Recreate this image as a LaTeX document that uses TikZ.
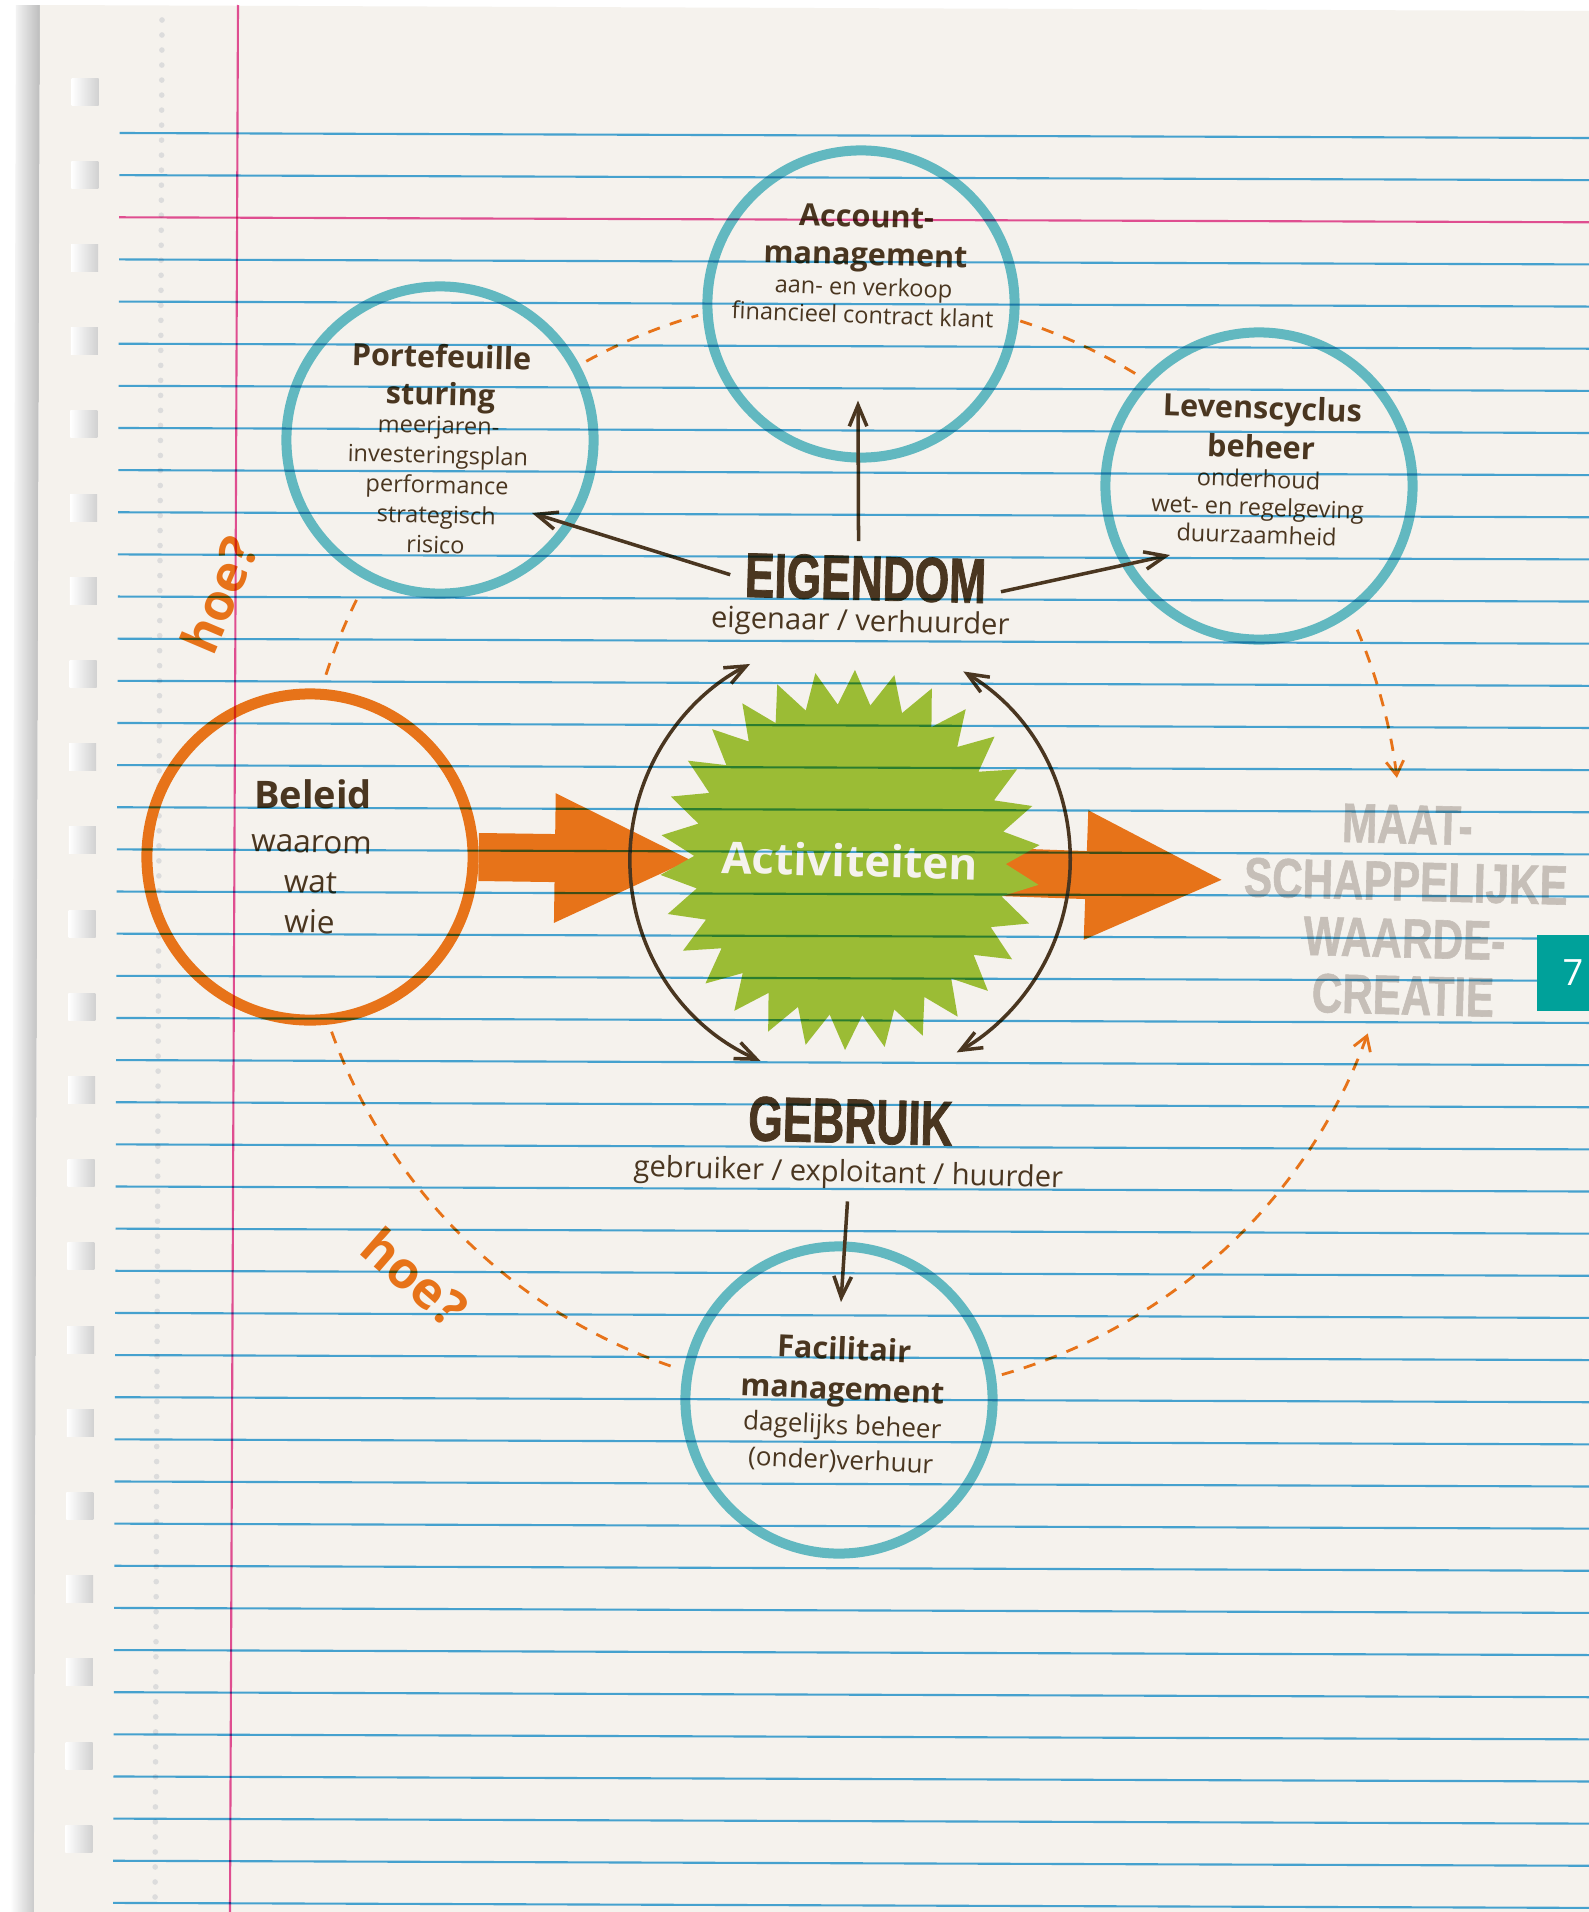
\documentclass[tikz,border=0pt]{standalone}
\usepackage{fontspec}
\setmainfont{Open Sans}
\newfontfamily\blockfont[FakeStretch=0.70, FakeBold=1.2]{Liberation Sans}
\newfontfamily\stencilfont[FakeStretch=0.76, FakeBold=1]{Liberation Sans}
\usepackage{xcolor}
\usepackage{tikz}
\usetikzlibrary{arrows.meta,shapes.geometric}

\definecolor{paper}{RGB}{245,242,237}
\definecolor{ink}{RGB}{74,54,32}
\definecolor{ringteal}{RGB}{98,184,192}
\definecolor{hoeorange}{RGB}{231,115,25}
\definecolor{burst}{RGB}{155,188,53}
\definecolor{ruleblue}{RGB}{72,170,222}
\definecolor{marginpink}{RGB}{233,83,155}
\definecolor{tabteal}{RGB}{0,161,154}
\definecolor{stencil}{RGB}{198,191,184}
\definecolor{holedots}{RGB}{220,220,220}

\pgfdeclarelayer{sheet}
\pgfdeclarelayer{under}
\pgfsetlayers{sheet,under,main}

\begin{document}
\begin{tikzpicture}[x=0.01cm, y=-0.01cm,
    sketch/.style={circle, draw=ringteal, line width=0.1cm, minimum size=3.07cm, inner sep=0pt},
    headtxt/.style={text=ink, align=center, anchor=north, inner sep=0pt, rotate=-1.5,
      font=\fontsize{8.7}{10.8}\selectfont\bfseries},
    subtxt/.style={text=ink, align=center, anchor=north, inner sep=0pt, rotate=-1.5,
      font=\fontsize{6.7}{8}\selectfont},
    bigword/.style={text=ink, anchor=base, inner sep=4pt, rotate=-1.5,
      font=\blockfont\fontsize{18}{20}\selectfont\bfseries},
    roletxt/.style={text=ink, anchor=base, rotate=-1.5, font=\fontsize{8.3}{10}\selectfont},
    hoetxt/.style={text=hoeorange, inner sep=0pt, font=\fontsize{14.5}{16}\selectfont\bfseries},
    linkarrow/.style={draw=ink, line width=1pt, -{Straight Barb[length=6pt, width=5pt]}},
    cyclearrow/.style={draw=ink, line width=1pt,
      {Straight Barb[length=6pt, width=5pt]}-{Straight Barb[length=6pt, width=5pt]}},
    dashring/.style={draw=hoeorange, line width=0.8pt, dash pattern=on 3.5pt off 3pt},
    ringhead/.style={-{Straight Barb[length=4pt, width=5pt]}},
    flowarrow/.style={draw=hoeorange, line width=0.48cm, -{Triangle[length=1.4cm, width=1.18cm]}},
  ]
  \useasboundingbox (0,0) rectangle (1589,1912);

  % Sheet of lined paper
  \begin{pgfonlayer}{sheet}
    \fill[white] (0,0) rectangle (1589,1912);
    \shade[left color=white, right color=black!26] (16,5) -- (40,5) -- (34,1912) -- (10,1912) -- cycle;
    \fill[paper] (40,5) -- (1589,11) -- (1589,1912) -- (34,1912) -- cycle;
    \foreach \k in {0,...,21} {
      \pgfmathsetmacro\hy{91.5+83.2*\k}
      \pgfmathsetmacro\hx{85.5-7*\hy/1912}
      \shade[left color=white, right color=black!18]
        (\hx-13.5,\hy-13.5) rectangle (\hx+13.5,\hy+13.5);
    }
    \draw[holedots, line width=1.6pt, line cap=round, dash pattern=on 0pt off 4.27pt] (162,20) -- (155,1912);
  \end{pgfonlayer}

  % Circles
  \node[sketch] (port) at (440,440) {};
  \node[sketch] (acct) at (861,304) {};
  \node[sketch] (lev) at (1259,486) {};
  \node[sketch] (fac) at (839,1400) {};
  \node[sketch, draw=hoeorange, line width=0.11cm, minimum size=3.26cm] (beleid) at (310,857) {};

  % Circle texts
  \node[headtxt] (accthead) at (867,200) {\strut Account-\\management};
  \node[subtxt, rotate=-0.5] (acctsub) at (864,275) {\strut aan- en verkoop\\financieel contract klant};
  \node[headtxt, font=\fontsize{8.7}{10.6}\selectfont\bfseries] (porthead) at (442,341) {\strut Portefeuille\\sturing};
  \node[subtxt, font=\fontsize{6.7}{8.5}\selectfont] (portsub) at (439,412)
    {\strut meerjaren-\\investeringsplan\\performance\\strategisch\\risico};
  \node[headtxt, rotate=-0.5, font=\fontsize{8.7}{11.1}\selectfont\bfseries] (levhead) at (1263,391) {\strut Levenscyclus\\beheer};
  \node[subtxt, rotate=-0.5] (levsub) at (1259,467) {\strut onderhoud\\wet- en regelgeving\\duurzaamheid};
  \node[headtxt, rotate=-1, font=\fontsize{8.7}{11.4}\selectfont\bfseries] (fachead) at (845,1331) {\strut Facilitair\\management};
  \node[subtxt, rotate=-1, font=\fontsize{7.4}{10}\selectfont] (facsub) at (843,1409) {\strut dagelijks beheer\\(onder)verhuur};
  \node[text=ink, anchor=base, font=\fontsize{10.8}{13}\selectfont\bfseries] (beleidhead) at (313,808) {Beleid};
  \node[subtxt, rotate=0, font=\fontsize{9}{11.4}\selectfont] (beleidsub) at (312,824) {\strut waarom\\wat\\wie};

  % Ownership and use
  \node[bigword] (eig) at (865,600) {EIGENDOM};
  \node[roletxt] (eigsub) at (860,631) {eigenaar / verhuurder};
  \node[bigword] (geb) at (850,1143) {GEBRUIK};
  \node[roletxt] (gebsub) at (848,1182) {gebruiker / exploitant / huurder};

  % Activities
  \node[star, star points=30, star point ratio=1.22, minimum size=3.8cm, inner sep=0pt,
        fill=burst, rotate=-1.5] (act) at (850,860) {};
  \node[text=paper, rotate=-1.5, font=\fontsize{12.5}{15}\selectfont\bfseries] (acttxt) at (act.center) {Activiteiten};

  % Societal value
  \node[text=stencil, align=center, anchor=north, inner sep=0pt, rotate=-1.5,
        font=\stencilfont\fontsize{15.8}{16.2}\selectfont\bfseries] (maat) at (1408,803)
    {\strut MAAT-\\SCHAPPELIJKE\\WAARDE-\\CREATIE};
  \coordinate (waarde) at (1226,880);

  \begin{pgfonlayer}{under}
    \draw[flowarrow] (beleid.east) -- ([xshift=-1.55cm]act.center);
    \draw[flowarrow] ([shift={(150,12)}]act.center) -- (waarde);
  \end{pgfonlayer}

  % Dashed ring
  \coordinate (hub) at (850,845);
  \draw[dashring] ([shift={(-162:551)}]hub) arc[start angle=-162, end angle=-153, radius=551];
  \draw[dashring] ([shift={(-118.6:551)}]hub) arc[start angle=-118.6, end angle=-106, radius=551];
  \draw[dashring] ([shift={(-72:551)}]hub) arc[start angle=-72, end angle=-58, radius=551];
  \draw[dashring, ringhead] ([shift={(-23:551)}]hub) arc[start angle=-23, end angle=-7, radius=551];
  \draw[dashring, ringhead] ([shift={(74:551)}]hub) arc[start angle=74, end angle=20, radius=551];
  \draw[dashring] ([shift={(109:551)}]hub) arc[start angle=109, end angle=161, radius=551];

  % Arrows
  \draw[linkarrow] ([xshift=-0.08cm]eig.north) -- ([shift={(-3,-62)}]acct.south);
  \draw[linkarrow] (eig.west) -- ([shift={(92,73)}]port.center);
  \draw[linkarrow] ([yshift=-0.1cm]eig.east) -- ([shift={(-89,69)}]lev.center);
  \draw[linkarrow] (gebsub.south) -- ([shift={(2,-98)}]fac.center);
  \draw[cyclearrow] ([shift={(114:220)}]act.center) arc[start angle=114, end angle=243, radius=220];
  \draw[cyclearrow] ([shift={(-59:220)}]act.center) arc[start angle=-59, end angle=61, radius=220];

  % hoe?
  \node[hoetxt, rotate=67] (hoeA) at (219,595) {hoe?};
  \node[hoetxt, rotate=-41] (hoeB) at (415,1277) {hoe?};

  % Ruling on top
  \begin{scope}[blend mode=multiply]
    \foreach \k in {0,...,42} {
      \pgfmathsetmacro\ry{133+42.14*\k}
      \pgfmathsetmacro\rx{120-7*\ry/1912}
      \ifnum\k=2 \def\rc{marginpink}\else\def\rc{ruleblue}\fi
      \draw[\rc, line width=0.6pt] (\rx,\ry) -- (1589,\ry+5);
    }
    \draw[marginpink, line width=0.6pt] (238,5) -- (230,1912);
  \end{scope}

  % Page tab
  \fill[tabteal] (1537,935) rectangle (1589,1011);
  \node[text=white, font=\fontsize{10.3}{12}\selectfont] (page) at (1573,973) {7};
\end{tikzpicture}
\end{document}
